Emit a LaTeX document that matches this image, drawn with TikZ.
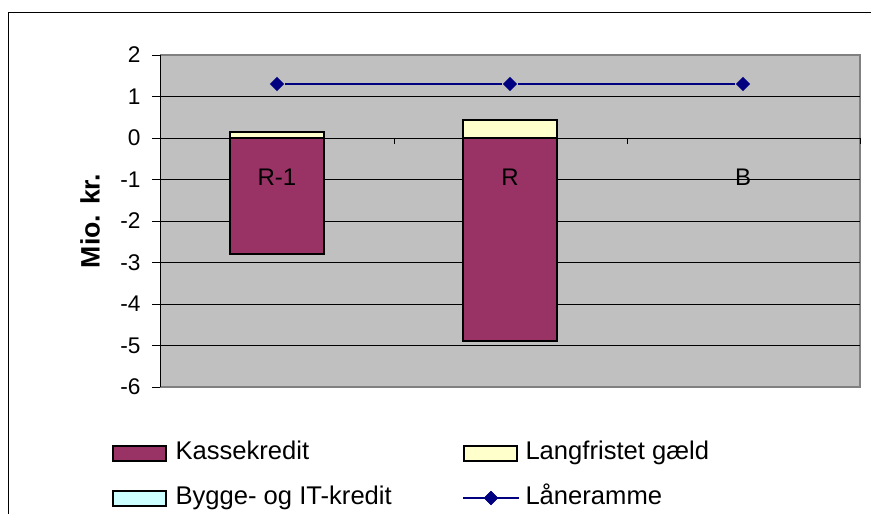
\documentclass[tikz,border=0pt]{standalone}
\usepackage{fontspec}
\setmainfont{Liberation Sans}
\usetikzlibrary{shapes.geometric}

\definecolor{plotgray}{RGB}{192,192,192}
\definecolor{framegray}{RGB}{128,128,128}
\definecolor{kasse}{RGB}{153,51,102}
\definecolor{langfr}{RGB}{255,255,204}
\definecolor{bygge}{RGB}{204,255,255}
\definecolor{navyline}{RGB}{0,0,128}

\tikzset{every picture/.style={line width=0.75pt}}
\tikzset{
  barbox/.style={draw=black, line width=1.5pt},
  keybox/.style={draw=black, line width=1.5pt, minimum width=39.75pt, minimum height=11.25pt, inner sep=0pt},
  ticklabel/.style={anchor=east, inner sep=0pt, font=\fontsize{17}{19}\selectfont},
  catlabel/.style={inner sep=0pt, font=\fontsize{18}{20}\selectfont},
  keylabel/.style={anchor=base west, inner sep=0pt, font=\fontsize{19.2}{22}\selectfont},
  lanemark/.style={diamond, fill=navyline, inner sep=0pt, minimum width=11pt, minimum height=11pt},
  laneline/.style={draw=navyline, line width=1.5pt}
}

\begin{document}
\begin{tikzpicture}[x=0.75pt,y=0.75pt,yscale=-1,xscale=1]
\useasboundingbox (0,0) rectangle (871,514);

%Chart frame
\draw (8,12) -- (880,12) ;
\draw (8,12) -- (8,520) ;

%Plot area
\fill [plotgray] (160,55) rectangle (860,387) ;
\draw [framegray, line width=1.5pt] (160,55) -- (860,55) -- (860,387) -- (160,387) ;

%Gridlines and value ticks
\foreach \v in {1,0,-1,-2,-3,-4,-5}
  \draw (160,138-41.5*\v) -- (860,138-41.5*\v) ;
\foreach \v in {2,1,0,-1,-2,-3,-4,-5,-6}{
  \draw (152,138-41.5*\v) -- (160,138-41.5*\v) ;
  \node [ticklabel] (t\v) at (141,138-41.5*\v) {\v};
}
\draw (160,55) -- (160,387) ;

%Category ticks
\foreach \x in {394,627,860}
  \draw (\x,138) -- (\x,144) ;

%Bars R-1
\draw [barbox, fill=kasse] (230,138) rectangle (324,254.2) ;
\draw [barbox, fill=langfr] (230,131.8) rectangle (324,138) ;
%Bars R
\draw [barbox, fill=kasse] (463,138) rectangle (557,341.4) ;
\draw [barbox, fill=langfr] (463,120.2) rectangle (557,138) ;

%Laaneramme
\node [lanemark] (m1) at (277,84) {};
\node [lanemark] (m2) at (510,84) {};
\node [lanemark] (m3) at (743,84) {};
\draw [laneline] (m1) -- (m2) -- (m3) ;

%Category labels
\node [catlabel] (c1) at (277,177.5) {R-1};
\node [catlabel] (c2) at (510,177.5) {R};
\node [catlabel] (c3) at (743,177.5) {B};

%Axis title
\node [rotate=90, inner sep=0pt, font=\bfseries\fontsize{20}{22}\selectfont] (ytitle) at (90,221) {Mio. kr.};

%Legend
\node [keybox, fill=kasse] (k1) at (139.5,453.5) {};
\node [keylabel] (l1) at (175,459.5) {Kassekredit};
\node [keybox, fill=langfr] (k2) at (490,453.5) {};
\node [keylabel] (l2) at (525,459.5) {Langfristet gæld};
\node [keybox, fill=bygge] (k3) at (139.5,498) {};
\node [keylabel] (l3) at (175,504.5) {Bygge- og IT-kredit};
\coordinate (k4a) at (463,498);
\coordinate (k4b) at (519,498);
\node [lanemark] (k4) at (491,498) {};
\draw [laneline] (k4a) -- (k4b) ;
\node [lanemark] at (k4) {};
\node [keylabel] (l4) at (525,504.5) {Låneramme};

\end{tikzpicture}
\end{document}
